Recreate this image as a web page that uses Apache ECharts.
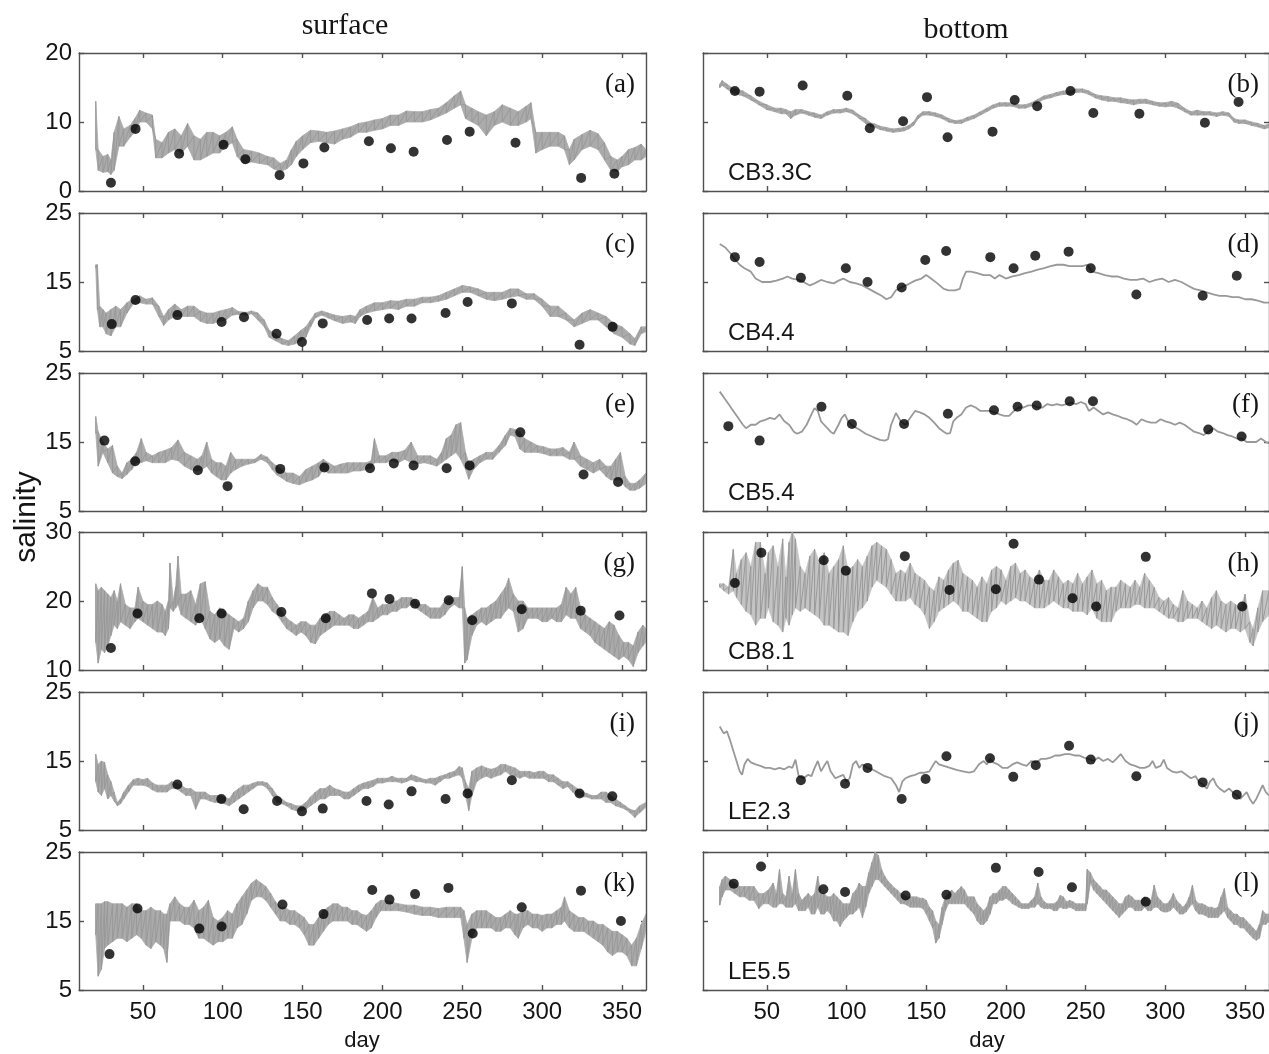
<!DOCTYPE html>
<html><head><meta charset="utf-8">
<script src="https://cdn.jsdelivr.net/npm/echarts@6/dist/echarts.min.js"></script>
<style>html,body{margin:0;padding:0;background:#fff;}#c{width:1269px;height:1054px;}</style>
</head><body><div id="c"></div>
<script>
// ---------- tick labels ----------
const xTicks = [50,100,150,200,250,300,350];
const yTicks0_20 = [0,10,20];
const yTicks5_25 = [5,15,25];
const yTicks10_30 = [10,20,30];

// ---------- (a) surface CB3.3C ----------
const aDay = [20.5,22,25,28,30,32,35,38,42,45,48,52,56,58,62,66,70,74,78,82,86,90,94,98,102,106,109,113,118,123,128,132,136,140,143,146,150,155,160,165,170,175,180,185,190,195,200,205,210,215,220,225,230,235,240,245,249,252,256,260,265,270,275,280,285,290,293,296,300,305,310,314,317,320,325,330,335,339,343,347,350,354,358,362,365];
const aHi = [13.0,6.0,5.0,5.3,4.5,8.5,10.8,9.0,9.5,10.5,11.7,11.3,11.0,7.5,7.0,8.5,9.0,8.0,9.8,8.0,7.5,8.5,8.5,8.0,8.5,9.3,7.5,6.0,5.8,5.5,5.0,4.8,4.0,4.5,6.0,7.2,8.0,8.8,8.7,8.5,8.7,9.0,9.3,9.8,10.0,10.3,10.5,11.0,11.0,11.6,11.5,11.5,11.8,12.0,12.8,13.8,14.5,12.5,12.0,11.5,11.0,11.5,12.5,12.0,11.5,12.3,12.8,8.5,8.5,8.5,8.5,8.0,6.0,7.5,8.2,8.8,8.3,7.0,5.0,4.5,5.0,6.0,6.3,6.8,6.0];
const aLo = [6.0,3.0,2.7,2.8,2.4,3.0,6.5,6.5,7.8,8.5,10.0,10.0,9.0,4.8,4.8,5.5,6.0,5.5,6.5,4.5,4.5,5.0,5.5,5.5,6.5,7.0,5.0,4.0,4.2,4.0,3.8,3.2,2.8,3.2,3.8,5.0,6.0,7.0,7.2,7.0,6.8,7.5,7.8,8.5,8.5,8.8,9.0,9.5,9.5,10.0,10.0,10.0,10.3,10.8,11.3,12.0,12.5,10.5,10.0,9.5,8.0,9.5,10.0,9.5,9.5,10.0,10.5,5.5,6.0,6.5,6.5,6.0,3.8,4.5,6.0,6.5,6.0,4.5,3.0,2.8,3.5,3.8,4.5,4.5,5.0];
const aObsDay = [30.0,45.4,72.7,100.5,114.2,135.6,150.5,163.6,191.5,205.3,219.5,240.4,254.6,283.3,324.4,345.2];
const aObsVal = [1.2,9.0,5.4,6.7,4.6,2.3,4.0,6.3,7.2,6.2,5.7,7.4,8.6,7.0,1.9,2.5];

// ---------- (b) bottom CB3.3C ----------
const bDay = [20.5,22,25,28,31,35,40,45,50,55,59,62,65,68,72,76,80,84,88,92,96,100,104,108,112,115,118,121,125,129,133,136,139,142,145,148,152,156,160,164,168,172,176,180,184,188,192,196,200,204,208,212,216,220,224,228,232,236,240,244,248,252,256,260,264,268,272,276,280,284,288,292,296,300,304,308,312,316,320,324,328,332,336,340,343,346,350,354,358,362,365];
const bHi = [15.5,16.0,15.5,15.0,14.8,14.5,13.8,13.0,12.5,12.0,12.0,11.8,11.5,11.8,11.8,11.5,11.3,11.0,11.5,11.8,11.8,12.0,11.7,11.0,10.5,9.9,9.7,9.4,9.2,9.0,9.1,9.2,9.5,10.0,11.0,11.5,11.5,11.3,11.0,10.5,10.2,10.3,10.7,11.0,11.5,12.0,12.5,12.8,12.8,12.8,12.5,12.5,12.8,13.3,13.8,14.0,14.3,14.5,14.5,14.8,14.8,14.5,14.0,13.8,13.7,13.5,13.5,13.3,13.2,13.3,13.3,13.0,12.8,12.8,13.0,12.7,12.0,11.5,11.7,11.5,11.5,11.3,11.5,11.3,10.5,10.3,10.3,10.0,9.8,9.5,9.7];
const bLo = [15.0,15.3,14.8,14.3,14.0,13.8,13.2,12.5,11.8,11.5,11.2,11.2,10.5,11.0,11.3,11.0,10.7,10.5,11.0,11.3,11.3,11.5,11.2,10.5,9.8,9.4,9.2,8.9,8.7,8.5,8.6,8.7,9.0,9.5,10.5,11.0,11.0,10.8,10.5,10.0,9.8,9.8,10.2,10.5,11.0,11.5,12.0,12.3,12.3,12.3,12.0,12.0,12.3,12.8,13.3,13.5,13.8,14.0,14.0,14.3,14.3,14.0,13.5,13.2,13.0,13.0,12.8,12.7,12.5,12.7,12.7,12.5,12.3,12.2,12.3,12.0,11.5,11.0,11.0,11.0,11.0,10.8,11.0,10.8,10.0,9.8,9.8,9.5,9.3,9.0,9.2];
const bObsDay = [30.0,45.5,72.5,100.5,114.6,135.5,150.5,163.4,191.6,205.5,219.6,240.5,254.8,283.7,324.8,345.9];
const bObsVal = [14.5,14.4,15.3,13.8,9.1,10.1,13.6,7.8,8.6,13.2,12.3,14.5,11.3,11.2,9.9,12.9];

// ---------- (c) surface CB4.4 ----------
const cDay = [20.5,21.5,23,25,27,30,33,36,40,44,48,52,56,60,63,66,70,74,78,82,86,90,94,98,102,106,110,115,118,122,126,129,133,137,141,145,149,152,155,158,162,166,170,175,180,183,186,190,195,200,205,210,215,220,225,230,235,240,245,250,255,260,265,270,275,280,285,290,295,300,305,310,315,320,325,330,335,340,345,350,355,358,362,365];
const cHi = [17.5,17.5,11.5,11.0,10.5,11.0,11.5,11.0,12.0,12.5,13.0,12.5,12.7,11.5,10.0,11.0,11.8,11.0,11.5,11.5,10.8,10.5,10.5,10.8,11.0,11.3,10.7,10.6,10.8,10.5,9.5,8.0,7.5,6.8,6.5,7.2,8.0,8.5,9.5,10.5,10.8,10.5,10.2,10.0,10.2,10.0,11.0,11.5,12.0,12.0,12.3,12.2,12.5,12.5,12.8,12.8,13.0,13.5,14.0,14.5,14.3,14.0,13.5,13.5,13.5,14.0,14.0,13.3,13.3,12.5,11.5,11.5,10.5,9.5,10.5,11.0,10.5,10.0,9.0,8.5,7.5,6.8,8.5,8.5];
const cLo = [17.0,11.0,8.5,8.5,7.5,7.2,8.5,8.5,10.5,11.8,12.0,11.8,11.8,10.0,8.7,9.5,10.0,10.0,10.0,10.0,9.3,9.0,9.0,9.3,9.5,10.2,10.3,10.2,10.4,9.5,8.5,7.0,6.5,6.0,5.8,6.0,6.5,7.0,8.5,9.8,10.2,9.8,9.4,9.0,9.2,9.0,10.0,10.5,10.8,11.0,11.2,11.0,11.5,11.5,12.0,12.0,12.2,12.5,13.0,13.5,13.5,13.0,12.5,12.3,12.5,12.8,13.0,12.5,12.5,11.5,10.0,10.0,9.5,8.5,9.0,9.5,9.5,8.5,7.5,7.0,6.0,5.8,7.5,7.8];
const cObsDay = [30.5,45.4,71.6,99.3,113.3,133.7,149.6,162.6,190.4,204.2,218.2,239.5,253.3,281.0,323.4,344.1];
const cObsVal = [8.9,12.4,10.2,9.2,9.9,7.5,6.3,9.0,9.5,9.7,9.7,10.5,12.1,11.9,5.9,8.5];

// ---------- (d) bottom CB4.4 ----------
const dDay = [20.5,24,27,30,33,36,40,43,47,52,56,60,63,66,70,73,77,80,84,88,92,95,98,102,106,110,114,118,122,125,128,131,135,139,143,147,150,153,157,161,164,168,171,173,175,178,182,186,190,193,196,200,204,208,212,216,220,224,228,232,236,240,244,248,251,254,258,262,266,270,274,278,282,286,290,294,298,302,306,310,314,318,322,326,330,334,338,342,346,350,354,358,362,365];
const dVal = [20.5,20.0,19.2,18.3,17.5,17.0,16.5,15.5,15.0,15.0,15.2,15.5,15.8,15.5,15.3,15.0,14.5,14.8,15.3,15.0,14.8,15.2,15.5,15.0,14.8,14.5,14.0,13.5,13.0,12.5,12.8,13.8,14.3,14.7,15.2,15.5,16.0,15.5,14.8,14.0,13.8,13.8,14.0,15.5,16.5,16.5,16.3,16.0,16.0,15.5,16.0,15.5,15.8,16.0,16.3,16.5,16.8,17.0,17.3,17.5,17.5,17.3,17.3,17.3,17.5,16.5,16.3,16.0,15.8,15.8,15.5,15.3,15.3,15.5,15.0,15.3,15.5,15.0,15.3,15.0,14.5,14.0,13.8,13.5,13.2,13.0,13.0,12.8,12.8,12.5,12.5,12.3,12.0,12.0];
const dObsDay = [30.0,45.5,71.4,99.6,113.2,134.6,149.4,162.5,190.2,204.8,218.4,239.3,253.2,281.8,323.4,344.8];
const dObsVal = [18.6,17.9,15.6,17.0,15.0,14.2,18.2,19.5,18.6,17.0,18.8,19.4,17.0,13.2,13.0,15.9];

// ---------- (e) surface CB5.4 ----------
const eDay = [20.5,22,25,28,31,34,37,40,43,46,49,52,56,60,64,68,72,76,80,84,87,90,93,96,99,102,105,108,112,116,120,124,128,131,134,137,140,144,148,152,156,160,163,166,170,174,178,182,186,190,193,195,198,202,206,210,214,218,222,226,230,234,237,240,243,246,249,252,254,257,261,265,269,273,277,280,283,286,289,293,297,301,305,309,313,317,320,324,328,332,336,340,343,346,349,352,355,358,361,365];
const eHi = [18.7,16.5,15.0,14.0,14.5,11.5,10.5,12.0,12.5,13.5,15.5,13.5,13.0,13.5,13.8,14.2,15.3,13.5,13.0,12.5,13.0,15.0,12.5,12.0,12.0,11.5,13.5,12.5,12.5,12.5,12.5,13.2,12.8,12.0,11.5,11.0,10.5,10.5,10.0,11.0,11.5,12.0,12.5,12.0,11.5,11.8,12.0,12.0,12.0,12.0,12.3,15.5,13.0,13.0,13.5,13.5,13.8,15.0,13.0,13.0,13.0,12.5,13.5,15.5,16.0,17.5,17.8,13.5,12.0,12.5,13.0,13.5,13.5,14.5,16.0,17.0,16.8,16.5,15.5,15.0,14.5,14.3,14.0,14.0,14.2,13.5,15.0,13.0,12.5,12.0,12.5,11.5,11.5,12.5,13.5,10.0,9.0,9.0,9.5,10.5];
const eLo = [16.3,11.5,13.5,12.0,10.5,10.0,9.7,10.3,11.0,12.0,12.0,12.3,12.0,12.0,12.0,12.5,12.3,11.5,11.0,10.8,11.0,11.5,10.5,10.0,9.5,9.5,10.5,11.0,11.5,11.8,12.0,12.5,12.0,11.0,10.2,9.8,9.3,9.0,8.8,9.2,9.5,10.0,11.0,10.5,10.5,10.5,10.5,10.8,10.8,11.0,11.2,12.0,12.0,12.0,12.3,12.0,12.5,12.0,11.8,12.0,11.8,11.5,12.0,12.5,13.0,13.5,12.5,11.0,9.6,11.0,12.0,12.5,12.5,13.5,14.5,16.0,15.8,14.0,13.5,13.5,13.5,13.3,13.0,13.0,13.0,12.5,12.5,11.5,11.0,10.5,11.0,10.0,9.5,9.5,9.5,8.5,8.0,8.0,8.3,9.0];
const eObsDay = [25.9,45.2,84.4,103.0,136.0,163.6,192.2,207.1,219.5,240.2,254.6,286.3,325.9,347.5];
const eObsVal = [15.2,12.2,10.9,8.6,11.1,11.3,11.2,11.9,11.6,11.2,11.6,16.4,10.3,9.2];

// ---------- (f) bottom CB5.4 ----------
const fDay = [20.5,23,26,29,32,35,37,40,43,46,49,52,55,58,61,64,67,69,72,75,78,80,82,84,86,88,90,92,95,97,99,101,104,108,112,116,119,121,124,126,128,131,134,137,140,143,146,149,152,155,158,161,163,165,167,169,172,175,178,181,184,187,190,193,196,199,202,205,208,211,214,217,220,223,226,229,232,235,238,241,244,247,250,252,255,258,261,264,267,270,273,276,279,282,285,288,291,294,297,300,303,306,309,312,315,318,321,324,327,330,333,336,339,342,345,348,351,354,357,360,363,365];
const fVal = [22.3,21.5,20.5,19.5,18.5,17.5,17.0,17.5,17.5,18.0,18.2,18.5,18.3,19.0,18.0,17.5,16.5,16.2,16.5,17.5,19.0,19.9,19.5,18.0,17.5,17.0,16.5,16.2,17.5,18.5,19.0,18.0,17.3,16.8,16.2,15.8,15.5,15.3,15.2,15.4,17.5,19.2,18.0,17.5,18.5,19.5,19.3,19.0,18.5,17.8,17.0,16.5,16.2,16.3,18.0,18.5,19.0,20.0,20.3,20.0,19.5,19.5,19.5,19.3,19.0,18.8,18.8,19.5,20.0,20.0,20.3,20.3,20.0,20.0,20.5,20.3,20.5,20.3,20.5,20.7,20.5,20.8,20.5,19.5,20.0,19.5,19.0,19.3,19.0,18.8,18.5,18.3,18.0,17.5,18.3,18.0,17.8,17.8,18.3,18.0,17.8,17.5,17.8,17.5,17.0,16.5,16.3,16.0,16.5,17.0,16.5,16.3,16.0,15.8,15.5,15.5,15.0,15.0,15.0,15.5,15.0,14.8];
const fObsDay = [25.9,45.5,84.3,103.4,136.1,163.6,192.5,207.3,219.3,240.0,254.6,326.9,347.8];
const fObsVal = [17.3,15.2,20.1,17.6,17.6,19.1,19.6,20.1,20.3,20.9,20.9,16.8,15.8];

// ---------- (g) surface CB8.1 ----------
const gDay = [20.5,22,24,26,28,30,32,34,36,39,42,45,47,50,53,56,59,62,64,66,67,69,70.5,72,74,77,80,83,86,89,92,95,98,101,104,107,110,113,116,119,122,125,128,131,134,137,140,143,146,149,152,155,158,161,164,167,170,173,176,179,182,185,188,191,194,197,200,203,206,209,212,215,218,221,224,227,230,233,236,239,242,245,248,250,251.5,253,256,259,262,265,268,271,274,277,279,282,285,288,291,294,297,300,303,306,309,312,315,318,321,324,327,330,333,336,339,342,345,348,351,354,357,360,363,365];
const gHi = [22.5,21.5,22.0,21.5,21.0,20.5,21.5,20.0,22.5,19.5,19.0,19.0,22.0,20.0,19.5,19.5,20.0,19.5,18.5,20.0,25.5,20.0,22.0,26.5,21.0,21.0,21.5,19.5,22.5,22.8,18.5,18.0,19.0,18.5,18.0,17.5,17.0,17.5,20.0,21.5,22.5,22.0,22.0,20.5,19.5,18.5,17.5,17.0,16.5,17.0,17.0,16.5,16.5,17.5,18.0,18.5,18.5,18.0,17.5,18.0,18.0,17.5,18.0,18.5,20.5,19.0,19.5,19.5,20.0,20.0,20.5,20.5,20.5,20.0,19.5,19.5,19.0,19.0,19.0,20.0,20.5,20.5,20.5,25.0,19.0,17.5,18.0,18.5,19.0,19.0,19.5,20.0,21.0,22.0,23.3,21.0,20.0,20.0,19.0,19.0,19.0,19.0,19.0,19.0,19.0,19.5,22.0,21.0,22.0,19.0,18.0,17.5,17.0,16.5,16.0,17.0,16.5,15.0,14.0,14.0,13.5,15.5,16.5,16.0];
const gLo = [14.0,11.0,13.0,12.5,13.5,15.0,16.5,16.0,17.0,16.5,16.0,17.0,17.5,17.0,16.5,16.0,15.5,15.5,15.0,16.0,19.0,18.5,19.0,19.5,18.0,17.5,17.0,16.5,17.5,16.0,14.5,14.0,14.5,13.5,13.0,16.0,15.5,16.0,17.0,19.0,20.0,20.0,19.5,18.5,18.0,17.0,16.0,15.5,15.0,15.5,15.0,14.0,13.8,15.0,15.5,16.0,16.5,16.5,16.5,16.5,16.0,16.0,16.5,17.0,17.0,17.5,18.0,18.0,18.5,18.5,19.0,19.0,19.5,19.0,18.5,18.0,17.5,17.5,17.5,18.0,19.0,19.5,19.0,19.0,11.0,11.5,15.0,16.5,17.0,16.5,17.0,17.5,17.5,18.5,19.0,18.5,15.5,16.0,17.5,17.5,17.5,17.0,17.0,17.5,17.0,17.0,18.0,17.5,17.5,16.0,15.5,15.0,14.0,13.5,13.0,12.5,12.0,11.5,12.0,11.5,10.5,12.5,13.5,14.0];
const gObsDay = [30.0,46.6,85.3,99.3,136.7,164.5,193.4,204.4,220.4,241.5,256.2,287.2,324.1,348.4];
const gObsVal = [13.2,18.2,17.5,18.2,18.4,17.5,21.1,20.3,19.6,20.1,17.2,18.8,18.6,17.9];

// ---------- (h) bottom CB8.1 ----------
const hDay = [20.5,23,26,29,31,34,37,40,43,46,49,51,54,57,60,62,64,66,68,71,74,77,80,83,86,89,92,95,98,101,104,107,110,113,116,119,122,125,128,131,134,137,140,143,146,149,152,155,158,161,164,167,170,173,176,179,182,185,188,191,194,197,200,203,206,209,212,215,218,221,224,227,230,233,236,239,242,245,248,251,254,257,260,263,266,269,272,275,278,281,284,287,290,293,296,299,302,305,308,311,314,317,320,323,326,329,332,335,338,341,344,347,350,353,355,358,361,365];
const hHi = [22.5,22.5,22.0,27.5,24.0,26.0,27.0,25.0,28.5,28.5,24.0,27.0,28.0,25.0,29.0,23.5,28.5,30.0,29.0,25.0,24.0,26.5,27.5,25.5,27.0,24.0,25.0,26.0,28.0,24.5,25.0,26.0,25.0,26.5,28.0,28.5,28.0,27.5,26.0,24.0,24.5,24.0,25.5,24.0,23.5,23.0,22.0,21.5,23.5,23.0,24.5,25.5,25.9,24.0,23.5,23.0,22.0,23.5,22.5,24.5,25.0,24.5,23.0,25.0,25.5,24.0,24.5,23.5,23.0,24.5,23.0,23.0,24.5,23.5,22.5,23.0,22.5,24.0,22.5,23.5,24.5,22.5,23.0,21.5,22.0,22.0,23.0,22.5,22.0,23.0,22.0,24.0,23.0,22.0,20.5,20.0,20.5,19.5,19.0,21.5,20.0,19.5,19.0,20.0,19.0,20.5,21.5,20.0,19.5,20.0,19.5,19.0,21.0,17.0,16.0,19.0,21.5,21.5];
const hLo = [22.0,21.5,21.0,21.5,20.5,19.5,18.5,18.0,16.5,17.5,17.5,19.0,17.0,16.5,15.5,17.5,16.5,18.0,19.0,18.5,19.0,18.5,18.0,17.5,16.5,16.5,16.0,15.5,15.5,15.0,17.0,18.5,19.0,20.0,22.0,23.0,22.5,22.0,21.0,20.0,20.0,20.0,20.5,19.5,19.0,18.0,16.0,17.0,18.5,19.0,19.5,20.0,19.5,18.5,18.5,18.0,17.5,17.0,17.0,18.5,19.0,20.0,19.5,20.0,20.5,20.0,20.0,19.5,19.0,19.0,19.0,19.5,20.0,19.5,19.0,19.0,18.5,18.5,18.5,18.0,19.0,17.5,17.0,17.0,17.0,18.5,19.0,19.0,19.0,19.5,19.5,19.0,19.0,19.0,18.5,18.0,17.5,17.5,17.0,17.0,17.5,17.5,17.5,17.0,16.5,16.0,16.5,16.0,15.5,16.0,16.0,15.5,16.0,14.0,13.5,15.5,17.0,18.0];
const hObsDay = [30.0,46.6,85.7,99.6,136.6,164.6,193.7,204.8,220.7,241.8,256.6,287.7,348.2];
const hObsVal = [22.6,27.0,25.9,24.4,26.5,21.6,21.7,28.3,23.1,20.4,19.2,26.4,19.2];

// ---------- (i) surface LE2.3 ----------
const iDay = [20.5,22,24,26,28,30,32,34,36,38,41,44,47,50,53,56,59,62,65,68,71,74,77,80,83,86,89,92,95,98,101,104,107,110,113,116,119,122,125,128,131,134,137,140,143,146,149,152,155,158,161,164,167,170,173,176,179,182,185,188,191,194,197,200,203,206,209,212,215,218,221,224,227,230,233,236,239,242,245,248,250,252,254,256,259,262,265,268,271,274,277,280,283,286,289,292,295,298,301,304,307,310,313,316,319,322,325,328,331,334,337,340,343,346,349,352,355,358,361,365];
const iHi = [16.0,14.5,15.0,14.8,13.0,12.0,10.5,9.0,9.5,10.5,11.5,12.3,12.5,12.3,12.5,11.8,11.5,11.5,11.5,12.0,11.8,11.5,11.0,11.0,10.5,10.5,10.5,10.0,10.0,10.0,9.8,9.5,10.5,11.0,11.5,11.5,11.8,12.0,12.0,11.8,11.0,10.0,9.5,9.0,8.8,8.5,8.5,9.0,9.8,10.5,11.0,11.0,11.5,11.0,10.8,10.5,10.5,11.0,11.5,11.8,12.0,12.2,12.5,12.5,12.5,12.8,12.5,12.5,12.5,13.0,12.8,12.5,12.3,12.5,12.5,12.8,13.0,13.3,13.5,14.2,14.0,12.0,11.0,13.5,14.0,14.3,14.0,13.8,14.0,14.5,14.5,14.2,14.0,13.5,13.5,13.5,13.3,13.5,13.5,13.0,13.0,12.5,12.0,12.0,11.5,11.0,10.5,10.3,10.0,10.0,10.5,10.5,10.0,9.5,9.0,8.5,8.0,7.8,8.5,9.0];
const iLo = [12.0,10.5,10.0,11.0,9.5,10.0,9.2,8.5,8.8,9.5,10.5,11.5,11.5,11.5,11.3,10.8,10.5,10.5,10.5,11.0,11.0,10.5,10.0,10.0,8.0,9.5,9.5,9.2,9.0,9.0,8.8,8.5,9.0,9.5,10.0,10.5,11.0,11.5,11.5,11.0,10.0,9.0,8.8,8.5,8.0,7.8,7.8,8.0,8.5,9.0,9.5,9.5,10.0,10.0,10.0,9.5,9.5,10.0,10.5,11.0,11.0,11.3,11.8,11.8,12.0,12.0,12.0,11.8,12.0,12.3,12.0,12.0,11.8,11.8,11.5,12.0,12.5,12.5,12.8,13.0,12.5,10.0,7.8,10.0,12.0,12.5,12.8,12.5,12.8,13.0,13.5,13.0,12.8,12.5,12.8,12.5,12.5,12.5,12.5,12.0,12.0,11.5,11.0,11.3,10.5,10.0,9.8,9.8,9.5,9.5,9.5,9.0,9.0,8.5,8.3,8.0,7.5,6.8,7.5,8.3];
const iObsDay = [71.6,99.1,113.1,134.0,149.6,162.6,190.0,203.9,218.2,239.5,253.3,281.0,323.4,343.9];
const iObsVal = [11.6,9.5,8.0,9.2,7.7,8.1,9.2,8.7,10.6,9.5,10.3,12.2,10.3,9.9];

// ---------- (j) bottom LE2.3 ----------
const jDay = [20.5,23,25,27,29,31,33,34.5,36,38,40,43,46,49,52,55,58,61,64,66,68,70,73,76,78,80,82,84,86,88,90,93,96,98,100,102,104,106,108,110,113,116,120,124,128,131,133,135,137,140,143,146,149,152,154,156,158,161,165,169,173,177,180,183,186,188,190,192,195,198,201,204,207,210,213,216,219,222,225,228,231,234,237,240,243,246,249,252,255,258,261,264,267,270,272,275,278,281,284,287,290,292,294,297,299,301,304,307,310,313,316,319,321,324,326,328,330,332,334,337,340,343,345,347,349,351,353,355,357,359,361,363,365];
const jVal = [20.0,19.0,19.3,18.0,16.5,15.0,13.5,13.0,14.5,15.3,14.8,14.5,14.3,14.0,14.0,13.8,14.0,13.8,14.2,14.0,15.2,12.8,12.5,13.0,12.8,14.0,15.0,13.5,14.3,15.0,13.5,12.5,12.8,13.0,12.0,12.5,14.5,15.0,14.0,14.5,14.0,13.8,13.3,12.8,12.5,11.5,10.5,12.0,12.5,12.8,13.0,13.3,13.3,13.5,14.3,15.0,14.5,14.3,14.0,13.7,13.5,13.3,13.5,14.5,15.0,14.5,15.3,14.8,14.5,14.0,14.0,14.5,14.8,14.5,14.3,15.0,14.8,15.3,15.3,15.5,15.8,15.8,16.0,16.0,15.8,15.8,15.5,15.3,15.0,15.5,15.0,15.3,14.8,15.5,16.0,15.0,14.5,14.3,14.0,14.0,14.3,15.0,14.0,14.3,15.2,14.0,13.5,13.3,13.5,13.0,12.5,12.8,12.0,11.5,11.0,12.0,12.5,11.5,11.0,10.5,11.0,10.3,10.0,9.5,10.0,10.5,9.5,8.8,9.5,10.5,11.5,10.5,10.0];
const jObsDay = [71.4,99.1,113.2,134.6,149.6,162.7,190.0,204.6,218.7,239.6,253.2,281.8,323.4,344.8];
const jObsVal = [12.2,11.7,14.0,9.5,12.4,15.7,15.4,12.7,14.4,17.2,15.2,12.8,11.9,10.1];

// ---------- (k) surface LE5.5 ----------
const kDay = [20.5,22,24,26,28,31,34,37,40,43,46,49,52,55,58,61,63,65,67,70,73,76,79,82,85,88,91,94,97,100,103,106,109,112,115,118,121,124,127,130,133,136,139,142,145,148,151,154,157,160,163,166,169,172,175,178,181,184,187,190,193,196,199,202,205,210,215,220,225,230,235,240,245,249,251,253,256,259,262,265,268,271,274,277,280,283,285,288,291,294,297,300,303,306,309,312,314,317,320,323,326,329,332,335,338,341,344,347,350,353,356,359,362,365];
const kHi = [17.5,17.5,17.5,17.8,17.8,17.5,17.5,17.5,17.0,17.5,17.5,16.5,16.5,17.0,16.5,16.5,16.0,16.0,17.5,18.5,17.5,17.0,17.0,18.0,16.5,17.0,18.0,15.5,15.0,15.5,16.5,16.0,17.5,18.5,19.5,20.5,21.0,20.5,20.0,19.0,17.8,17.0,17.0,16.5,16.5,16.0,15.5,14.5,14.5,15.5,16.5,17.0,17.5,17.5,17.0,17.0,16.5,16.5,16.0,15.8,16.5,17.5,18.0,18.0,17.8,17.5,17.3,17.3,17.0,17.0,16.8,17.0,17.0,17.0,16.5,14.5,16.0,16.5,16.5,16.5,16.0,15.5,15.5,16.0,16.5,16.0,16.0,16.5,16.5,16.0,16.0,15.8,16.0,16.0,16.5,17.0,18.5,16.5,16.0,15.5,15.5,15.0,15.0,14.5,14.5,14.0,13.5,13.5,13.0,12.5,11.5,12.5,14.5,16.0];
const kLo = [13.0,7.0,8.0,11.0,11.5,12.0,12.5,12.5,12.0,12.5,13.0,12.5,11.5,11.0,12.0,11.5,11.0,9.0,15.0,15.0,15.0,14.5,14.5,14.0,12.5,12.5,12.0,11.5,12.0,12.0,12.5,12.5,14.0,14.5,16.0,18.0,18.5,18.5,18.0,17.0,16.0,15.0,15.0,14.5,14.5,14.0,13.0,11.5,11.5,12.5,13.5,14.5,15.0,15.0,15.0,15.0,14.5,14.5,14.0,13.5,14.0,15.5,16.5,16.5,16.5,16.5,16.3,16.0,15.8,15.8,15.5,15.5,15.5,15.5,12.5,9.0,12.5,14.0,14.0,14.0,14.0,13.5,13.5,14.0,14.0,13.0,12.5,14.0,14.5,14.0,14.0,13.5,14.0,14.0,14.5,14.5,15.0,14.0,13.5,13.5,13.5,13.0,12.5,12.0,11.5,10.5,10.0,10.5,10.5,10.0,8.5,8.5,11.0,13.5];
const kObsDay = [29.1,46.6,85.3,99.3,137.4,163.1,193.6,204.4,220.4,241.3,256.5,287.2,324.3,349.3];
const kObsVal = [10.2,16.8,13.9,14.2,17.4,16.0,19.5,18.1,18.9,19.8,13.2,17.0,19.4,15.0];

// ---------- (l) bottom LE5.5 ----------
const lDay = [20.5,22,24,27,30,33,36,39,42,45,48,51,54,56,58,60,62,64,66,68,70,72,74,76,78,80,82,84,86,88,90,92,94,96,98,100,102,104,106,108,110,112,114,116,118,120,122,124,126,128,130,132,134,136,138,140,142,144,146,148,150,152,154,156,158,160,162,164,166,168,170,172,174,176,178,180,182,184,186,188,190,192,194,196,198,200,202,204,206,208,210,212,214,216,218,220,222,224,226,228,230,232,234,236,238,240,242,244,246,248,250,251,253,255,257,259,261,263,265,267,269,271,273,275,277,279,281,283,285,287,289,291,293,295,297,299,301,303,305,307,309,311,313,315,317,319,321,323,325,327,329,331,333,335,337,339,341,343,345,347,349,351,353,355,357,359,361,363,365];
const lHi = [20.0,21.0,21.5,21.0,20.5,20.0,20.0,20.0,20.0,19.0,19.0,19.5,20.5,19.0,22.5,19.0,18.5,21.5,19.0,22.5,19.0,18.0,18.5,19.0,18.5,19.0,21.5,19.0,19.0,18.5,18.5,19.0,18.5,18.0,17.5,17.5,17.5,19.0,19.5,20.5,20.0,20.0,22.0,23.5,25.0,24.5,22.5,21.5,20.8,20.3,19.8,19.5,19.0,18.8,18.5,18.5,18.5,18.5,18.3,18.3,18.0,17.0,16.5,15.0,14.5,17.0,18.5,19.0,19.5,19.0,19.5,20.0,19.5,18.5,18.5,18.5,17.5,17.0,16.5,17.0,18.5,19.0,19.0,19.5,20.0,20.0,19.5,19.0,18.5,18.0,17.5,17.5,17.5,18.0,18.5,20.5,18.5,17.8,17.5,17.5,17.5,17.8,18.7,18.5,17.8,18.0,17.8,17.5,17.5,17.5,17.5,22.5,22.0,21.0,20.5,20.0,19.5,19.5,19.0,18.5,18.0,17.5,17.5,18.5,18.8,18.5,18.0,18.0,18.0,18.5,18.0,18.0,20.2,18.5,18.0,17.5,17.5,18.0,19.0,18.0,17.5,17.0,17.5,18.5,20.2,18.0,17.5,17.5,17.3,17.0,17.0,16.8,17.0,18.5,19.7,17.0,16.5,16.0,16.0,15.5,15.5,15.0,14.5,14.0,13.5,14.5,16.5,16.0,16.0];
const lLo = [17.3,18.5,19.5,19.5,19.0,18.5,18.5,18.0,18.0,16.8,17.5,17.5,17.0,17.0,17.5,17.5,17.0,17.0,17.0,17.5,16.5,16.5,16.5,17.0,16.0,16.0,17.0,16.0,16.0,16.5,16.0,15.0,15.0,14.2,15.0,15.5,16.0,16.0,16.5,17.0,15.5,17.0,19.0,20.0,21.0,21.0,20.5,20.0,19.5,19.0,18.5,18.0,17.5,17.5,17.3,17.0,17.0,17.0,17.0,16.8,16.0,15.0,14.0,11.8,12.5,14.5,16.5,17.5,17.5,17.5,17.5,17.5,17.5,17.0,16.5,16.0,15.0,14.5,14.5,15.0,16.0,17.5,17.5,18.0,18.0,18.3,18.0,17.5,17.3,17.0,16.8,16.8,16.8,17.0,17.0,17.5,17.0,16.8,16.8,16.8,16.5,16.5,17.0,16.8,16.8,17.0,16.8,16.5,16.5,16.5,16.5,17.5,20.5,19.5,19.0,18.5,18.0,17.5,17.0,16.5,16.0,15.5,16.0,16.5,17.0,17.0,16.5,16.5,16.5,17.0,16.5,16.5,17.0,17.0,16.5,16.3,16.3,16.5,17.0,16.5,16.0,16.0,16.3,17.0,17.5,16.5,16.0,16.0,15.8,15.5,15.5,15.5,15.5,16.0,16.5,15.5,15.0,14.5,14.5,14.0,14.0,13.5,13.0,12.5,12.2,12.5,14.5,14.5,15.0];
const lObsDay = [29.3,46.4,85.5,99.1,137.1,162.7,193.7,220.5,241.4,287.7];
const lObsVal = [20.4,22.9,19.6,19.2,18.7,18.8,22.7,22.1,19.9,17.8];

// ---------- panel definitions ----------
const panels = [
  {row:0,col:0,yMin:0, yMax:20,yTicks:yTicks0_20, days:aDay,hi:aHi,lo:aLo,band:'#ababab',obsD:aObsDay,obsV:aObsVal,tag:'(a)'},
  {row:0,col:1,yMin:0, yMax:20,yTicks:yTicks0_20, days:bDay,hi:bHi,lo:bLo,band:'#ababab',obsD:bObsDay,obsV:bObsVal,tag:'(b)',station:'CB3.3C'},
  {row:1,col:0,yMin:5, yMax:25,yTicks:yTicks5_25, days:cDay,hi:cHi,lo:cLo,band:'#ababab',obsD:cObsDay,obsV:cObsVal,tag:'(c)'},
  {row:1,col:1,yMin:5, yMax:25,yTicks:yTicks5_25, days:dDay,val:dVal,obsD:dObsDay,obsV:dObsVal,tag:'(d)',station:'CB4.4'},
  {row:2,col:0,yMin:5, yMax:25,yTicks:yTicks5_25, days:eDay,hi:eHi,lo:eLo,band:'#ababab',obsD:eObsDay,obsV:eObsVal,tag:'(e)'},
  {row:2,col:1,yMin:5, yMax:25,yTicks:yTicks5_25, days:fDay,val:fVal,obsD:fObsDay,obsV:fObsVal,tag:'(f)',station:'CB5.4'},
  {row:3,col:0,yMin:10,yMax:30,yTicks:yTicks10_30,days:gDay,hi:gHi,lo:gLo,band:'#ababab',obsD:gObsDay,obsV:gObsVal,tag:'(g)'},
  {row:3,col:1,yMin:10,yMax:30,yTicks:yTicks10_30,days:hDay,hi:hHi,lo:hLo,band:'#c4c4c4',obsD:hObsDay,obsV:hObsVal,tag:'(h)',station:'CB8.1'},
  {row:4,col:0,yMin:5, yMax:25,yTicks:yTicks5_25, days:iDay,hi:iHi,lo:iLo,band:'#ababab',obsD:iObsDay,obsV:iObsVal,tag:'(i)'},
  {row:4,col:1,yMin:5, yMax:25,yTicks:yTicks5_25, days:jDay,val:jVal,obsD:jObsDay,obsV:jObsVal,tag:'(j)',station:'LE2.3'},
  {row:5,col:0,yMin:5, yMax:25,yTicks:yTicks5_25, days:kDay,hi:kHi,lo:kLo,band:'#ababab',obsD:kObsDay,obsV:kObsVal,tag:'(k)'},
  {row:5,col:1,yMin:5, yMax:25,yTicks:yTicks5_25, days:lDay,hi:lHi,lo:lLo,band:'#ababab',obsD:lObsDay,obsV:lObsVal,tag:'(l)',station:'LE5.5'}
];

// ---------- layout / style ----------
const GRID_TOP = [53,213,373,532,692,852];
const GRID_H = 138, GRID_W = 567;
const GRID_LEFT = [79,703];
const X_MIN = 10, X_MAX = 365;
const FRAME = '#505050', LINE = '#999999', TEXT = '#151515';
const SANS = '"Liberation Sans", Arial, sans-serif';
const SERIF = '"Liberation Serif", "Times New Roman", serif';

const option = {animation:false, backgroundColor:'#fff', grid:[], xAxis:[], yAxis:[], series:[], graphic:[]};

function axisLineStyle(){ return {show:true, onZero:false, lineStyle:{color:FRAME, width:1.4}}; }

function txt(x, y, text, font, align, vAlign, rot){
  return {type:'text', x:x, y:y, rotation:rot||0, z:100, silent:true,
    style:{text:text, font:font, fill:TEXT, align:align, textAlign:align, verticalAlign:vAlign, textVerticalAlign:vAlign}};
}

panels.forEach(function(p, i){
  const left = GRID_LEFT[p.col], top = GRID_TOP[p.row];
  option.grid.push({left:left, top:top, width:GRID_W, height:GRID_H, containLabel:false});
  const showX = p.row === 5;
  option.xAxis.push({type:'value', gridIndex:i, position:'bottom', min:X_MIN, max:X_MAX,
    axisLine:axisLineStyle(),
    axisTick:{show:true, inside:true, length:5, customValues:xTicks, lineStyle:{color:FRAME, width:1.4}},
    axisLabel:{show:showX, customValues:xTicks, margin:10, fontFamily:SANS, fontSize:24, color:TEXT},
    splitLine:{show:false}});
  option.xAxis.push({type:'value', gridIndex:i, position:'top', min:X_MIN, max:X_MAX,
    axisLine:axisLineStyle(),
    axisTick:{show:true, inside:true, length:5, customValues:xTicks, lineStyle:{color:FRAME, width:1.4}},
    axisLabel:{show:false}, splitLine:{show:false}});
  option.yAxis.push({type:'value', gridIndex:i, position:'left', min:p.yMin, max:p.yMax,
    axisLine:axisLineStyle(),
    axisTick:{show:true, inside:true, length:5, customValues:p.yTicks, lineStyle:{color:FRAME, width:1.4}},
    axisLabel:{show:p.col===0, customValues:p.yTicks, margin:7, fontFamily:SANS, fontSize:24, color:TEXT},
    splitLine:{show:false}});
  option.yAxis.push({type:'value', gridIndex:i, position:'right', min:p.yMin, max:p.yMax,
    axisLine:axisLineStyle(),
    axisTick:{show:true, inside:true, length:5, customValues:p.yTicks, lineStyle:{color:FRAME, width:1.4}},
    axisLabel:{show:false}, splitLine:{show:false}});

  const xi = 2*i, yi = 2*i;
  if (p.lo) {
    const n = Math.min(p.days.length, p.hi.length, p.lo.length);
    option.series.push({type:'custom', coordinateSystem:'cartesian2d', xAxisIndex:xi, yAxisIndex:yi,
      silent:true, clip:true, z:2,
      data:[[p.days[0], p.lo[0]]],
      renderItem:function(params, api){
        const pts = [];
        for (let k=0;k<n;k++) pts.push(api.coord([p.days[k], p.hi[k]]));
        for (let k=n-1;k>=0;k--) pts.push(api.coord([p.days[k], p.lo[k]]));
        const zz = [];
        for (let k=0;k<n;k++) {
          zz.push(api.coord([p.days[k], p.hi[k]]));
          zz.push(api.coord([p.days[k], p.lo[k]]));
        }
        return {type:'group', children:[
          {type:'polygon', shape:{points:pts}, style:{fill:p.band, stroke:p.band, lineWidth:0.8}},
          {type:'polyline', shape:{points:zz}, style:{fill:null, stroke:LINE, lineWidth:1}}
        ]};
      }});
  } else {
    const n = Math.min(p.days.length, p.val.length);
    const d = [];
    for (let k=0;k<n;k++) d.push([p.days[k], p.val[k]]);
    option.series.push({type:'line', xAxisIndex:xi, yAxisIndex:yi, data:d, symbol:'none',
      lineStyle:{color:LINE, width:1.8}, silent:true, z:2});
  }
  const obs = p.obsD.map(function(dd,k){ return [dd, p.obsV[k]]; });
  option.series.push({type:'scatter', xAxisIndex:xi, yAxisIndex:yi, data:obs, symbol:'circle', symbolSize:10,
    itemStyle:{color:'#000'}, silent:true, z:5});

  option.graphic.push(txt(left + GRID_W - 11, top + 32, p.tag, '27px ' + SERIF, 'right', 'middle'));
  if (p.station) option.graphic.push(txt(left + 25, top + 120, p.station, '24px ' + SANS, 'left', 'middle'));
});

option.graphic.push(txt(345, 26, 'surface', '30px ' + SERIF, 'center', 'middle'));
option.graphic.push(txt(966, 30, 'bottom', '30px ' + SERIF, 'center', 'middle'));
option.graphic.push(txt(362, 1041, 'day', '22px ' + SANS, 'center', 'middle'));
option.graphic.push(txt(987, 1041, 'day', '22px ' + SANS, 'center', 'middle'));
option.graphic.push(txt(27, 517, 'salinity', '30px ' + SANS, 'center', 'middle', Math.PI/2));

const chart = echarts.init(document.getElementById('c'), null, {renderer:'canvas', width:1269, height:1054});
chart.setOption(option);
</script>
</body></html>
